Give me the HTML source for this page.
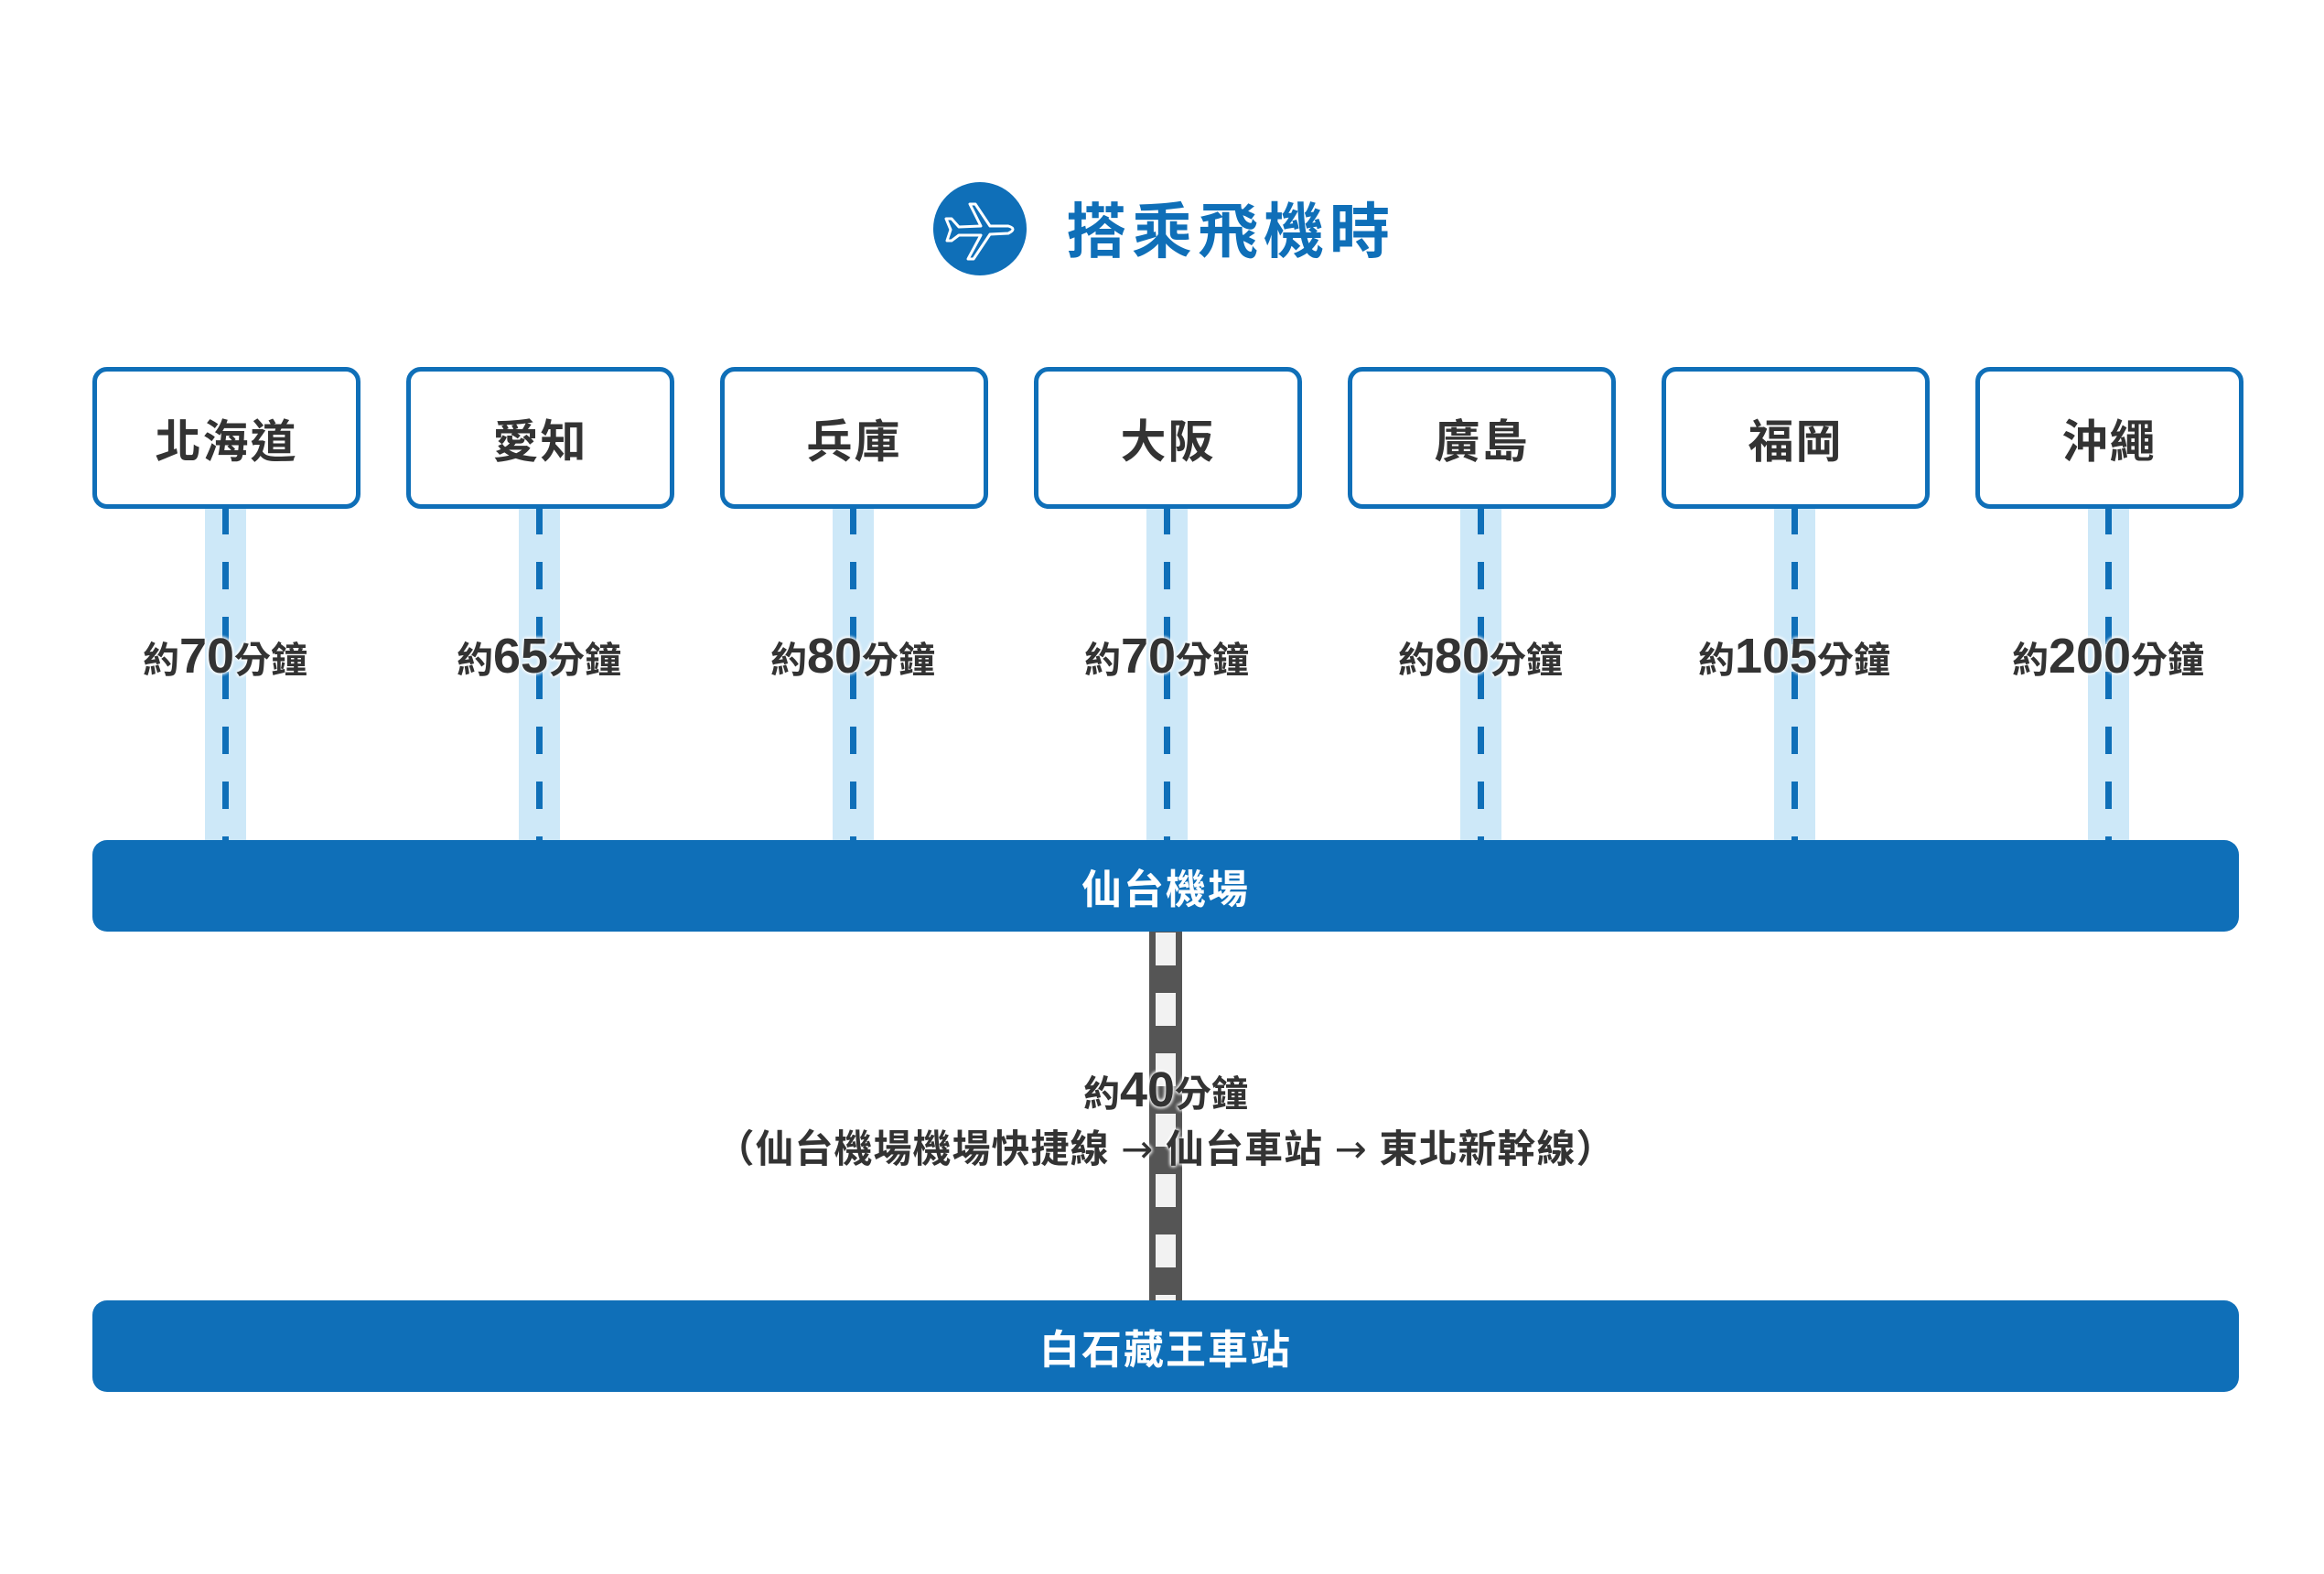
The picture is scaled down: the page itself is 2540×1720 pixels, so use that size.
<!DOCTYPE html>
<html><head><meta charset="utf-8"><style>
body{margin:0;width:2540px;height:1720px;background:#fff;position:relative;overflow:hidden;font-family:"Liberation Sans","Noto Sans CJK TC",sans-serif;}
.box{position:absolute;top:401px;width:283px;height:145px;border:5px solid #0f6fb8;border-radius:16px;background:#fff;display:flex;align-items:center;justify-content:center;font-size:50px;font-weight:bold;color:#333;letter-spacing:2px}
.band{position:absolute;top:554px;height:366px;width:45px;background:#cde8f8}
.dash{position:absolute;top:554px;height:366px;width:7px;background:repeating-linear-gradient(to bottom,#0f6fb8 0 30px,transparent 30px 60px)}
.t{position:absolute;top:686px;width:300px;text-align:center;font-size:40px;font-weight:bold;color:#333;text-shadow:0 0 4px #fff,0 0 4px #fff,0 0 4px #fff}
.t b{font-size:54px}
.bar{position:absolute;left:101px;width:2346px;height:100px;background:#0f6fb8;border-radius:16px;color:#fff;font-size:44px;font-weight:bold;display:flex;align-items:center;justify-content:center;letter-spacing:2px}
</style></head><body>
<svg style="position:absolute;left:1020px;top:199px" width="102" height="102" viewBox="0 0 102 102">
<circle cx="51" cy="51" r="51" fill="#0f6fb8"/>
<g fill="none" stroke="#fff" stroke-width="3" stroke-linejoin="round">
<path d="M14 40 L20 40 L28 49 L52 48 L40 24 L46 24 L62 48 L82 48 Q92 51 82 56 L62 57 L44 84 L38 84 L52 58 L28 58 L20 64 L15 64 L19 52 Z"/>
</g></svg>
<div style="position:absolute;left:1165px;top:200px;font-size:66px;font-weight:bold;color:#0f6fb8;letter-spacing:6px">搭乘飛機時</div>

<div class="band" style="left:224px"></div><div class="dash" style="left:243px"></div>
<div class="band" style="left:567px"></div><div class="dash" style="left:586px"></div>
<div class="band" style="left:910px"></div><div class="dash" style="left:929px"></div>
<div class="band" style="left:1253px"></div><div class="dash" style="left:1272px"></div>
<div class="band" style="left:1596px"></div><div class="dash" style="left:1615px"></div>
<div class="band" style="left:1939px"></div><div class="dash" style="left:1958px"></div>
<div class="band" style="left:2282px"></div><div class="dash" style="left:2301px"></div>

<div class="box" style="left:101px">北海道</div>
<div class="box" style="left:444px">愛知</div>
<div class="box" style="left:787px">兵庫</div>
<div class="box" style="left:1130px">大阪</div>
<div class="box" style="left:1473px">廣島</div>
<div class="box" style="left:1816px">福岡</div>
<div class="box" style="left:2159px">沖繩</div>

<div class="t" style="left:96px">約<b>70</b>分鐘</div>
<div class="t" style="left:439px">約<b>65</b>分鐘</div>
<div class="t" style="left:782px">約<b>80</b>分鐘</div>
<div class="t" style="left:1125px">約<b>70</b>分鐘</div>
<div class="t" style="left:1468px">約<b>80</b>分鐘</div>
<div class="t" style="left:1811px">約<b>105</b>分鐘</div>
<div class="t" style="left:2154px">約<b>200</b>分鐘</div>

<div style="position:absolute;left:1256px;top:1015px;width:36px;height:412px;background:#555"></div>
<div style="position:absolute;left:1263px;top:1019px;width:22px;height:404px;background:repeating-linear-gradient(to bottom,#f2f2f2 0 36px,transparent 36px 66px)"></div>

<div class="bar" style="top:918px">仙台機場</div>
<div class="bar" style="top:1421px">白石藏王車站</div>

<div style="position:absolute;left:0;width:2548px;top:1160px;text-align:center;font-size:40px;font-weight:bold;color:#333;text-shadow:0 0 4px #fff,0 0 4px #fff,0 0 4px #fff">約<b style="font-size:54px">40</b>分鐘</div>
<div style="position:absolute;left:0;width:2548px;top:1222px;text-align:center;font-size:42px;font-weight:bold;color:#333;letter-spacing:1px;text-shadow:0 0 4px #fff,0 0 4px #fff,0 0 4px #fff">（仙台機場機場快捷線 <span style="font-family:'DejaVu Sans',sans-serif;font-weight:normal">→</span> 仙台車站 <span style="font-family:'DejaVu Sans',sans-serif;font-weight:normal">→</span> 東北新幹線）</div>
</body></html>
